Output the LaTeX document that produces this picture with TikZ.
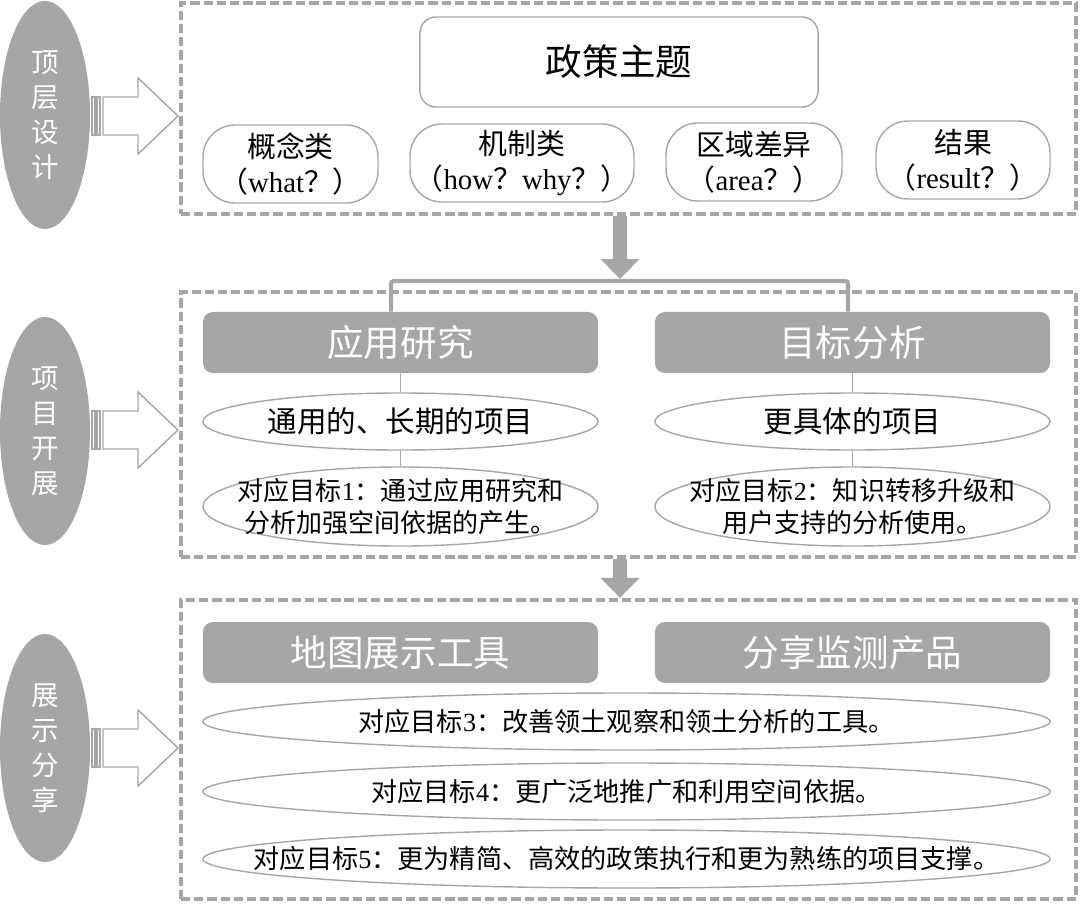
\documentclass[tikz,border=0pt]{standalone}
\usepackage{fontspec}
\setmainfont{Liberation Serif}
\newfontfamily\cjk{Noto Sans CJK SC}
\usetikzlibrary{shapes.geometric,arrows.meta}
\definecolor{boxgray}{HTML}{A6A6A6}
\newcommand\en[1]{{\rmfamily #1}}
\tikzset{
  levelnode/.style={ellipse, fill=boxgray, text=white, minimum width=2.25cm,
    minimum height=5.7cm, inner sep=0pt, align=center,
    font=\cjk\fontsize{19.5}{25}\selectfont},
  framebox/.style={draw=boxgray, line width=3pt, dash pattern=on 6.6pt off 2.8pt,
    minimum width=22.375cm, inner sep=0pt},
  topicbox/.style={draw=boxgray, line width=1pt, rounded corners=0.4cm,
    minimum width=9.95cm, minimum height=2.25cm, font=\cjk\fontsize{26}{30}\selectfont},
  kindbox/.style={draw=boxgray, line width=1pt, rounded corners=0.8cm,
    minimum height=1.95cm, inner sep=0pt, align=center,
    font=\cjk\fontsize{20.5}{25}\selectfont},
  headbox/.style={fill=boxgray, rounded corners=0.25cm, text=white,
    minimum width=9.875cm, minimum height=1.525cm, font=\cjk\fontsize{26}{30}\selectfont},
  itembox/.style={ellipse, draw=boxgray, line width=1pt, minimum width=9.875cm,
    minimum height=1.425cm, inner xsep=-4cm, inner ysep=-0.8cm, align=center,
    font=\cjk\fontsize{18.5}{22.5}\selectfont},
  sidearrow/.style={draw=boxgray, line width=1pt, fill=white},
  downarrow/.style={boxgray, line width=10.5pt, -{Triangle[length=0.5cm,width=0.95cm]}},
  bracket/.style={boxgray, line width=3pt, rounded corners=2pt},
  link/.style={boxgray, line width=0.8pt}
}
\begin{document}
\begin{tikzpicture}[x=0.025cm, y=-0.025cm]
\useasboundingbox (0,0) rectangle (1080,903);
% left side
\node[levelnode] (lv1) at (45,115) {顶\\层\\设\\计};
\node[levelnode] (lv2) at (45,431) {项\\目\\开\\展};
\node[levelnode] (lv3) at (45,748) {展\\示\\分\\享};
\draw[sidearrow] (103,97) -- (138,97) -- (138,78) -- (178,116) -- (138,154) -- (138,135) -- (103,135) -- cycle;
\draw[sidearrow] (92,97) rectangle (95,135) (97,97) rectangle (100,135);
\draw[sidearrow] (103,411) -- (138,411) -- (138,392) -- (178,430) -- (138,468) -- (138,449) -- (103,449) -- cycle;
\draw[sidearrow] (92,411) rectangle (95,449) (97,411) rectangle (100,449);
\draw[sidearrow] (103,729) -- (138,729) -- (138,710) -- (178,748) -- (138,786) -- (138,767) -- (103,767) -- cycle;
\draw[sidearrow] (92,729) rectangle (95,767) (97,729) rectangle (100,767);
% frames
\node[framebox, minimum height=5.275cm] (ftop) at (628.5,108.5) {};
\node[framebox, minimum height=6.625cm] (fmid) at (628.5,424.5) {};
\node[framebox, minimum height=7.475cm] (fbot) at (628.5,749.5) {};
% top level
\node[topicbox] (topic) at (619,62) {政策主题};
\node[kindbox, minimum width=4.375cm] (k1) at (290.5,164) {概念类\\（\en{what}？）};
\node[kindbox, minimum width=5.6cm] (k2) at (522,163) {机制类\\（\en{how}？\en{why}？）};
\node[kindbox, minimum width=4.4cm] (k3) at (754,162) {区域差异\\（\en{area}？）};
\node[kindbox, minimum width=4.35cm] (k4) at (963,160) {结果\\（\en{result}？）};
% middle level
\node[headbox] (app) at (400.5,342.5) {应用研究};
\node[headbox] (ana) at (852.5,342.5) {目标分析};
\node[itembox, font=\cjk\fontsize{21}{25}\selectfont] (e1) at (400.5,421.5) {通用的、长期的项目};
\node[itembox, minimum height=1.975cm] (e2) at (400.5,506.5) {对应目标\en{1}：通过应用研究和\\分析加强空间依据的产生。};
\node[itembox, font=\cjk\fontsize{21}{25}\selectfont] (e3) at (852.5,421.5) {更具体的项目};
\node[itembox, minimum height=1.975cm] (e4) at (852.5,506.5) {对应目标\en{2}：知识转移升级和\\用户支持的分析使用。};
\draw[link] (app) -- (e1);
\draw[link] (e1) -- (e2);
\draw[link] (ana) -- (e3);
\draw[link] (e3) -- (e4);
\coordinate (jt) at (620,279);
\coordinate (bl) at (391,281);
\coordinate (br) at (848,281);
\draw[downarrow] (ftop.south -| jt) -- (jt);
\draw[bracket] (app.north -| bl) -- (bl) -- (br) -- (ana.north -| br);
% bottom level
\draw[downarrow] (fmid.south -| jt) -- (fbot.north -| jt);
\node[headbox] (tool) at (400.5,652.5) {地图展示工具};
\node[headbox] (prod) at (852.5,652.5) {分享监测产品};
\node[itembox, minimum width=21.175cm, font=\cjk\fontsize{18.6}{22}\selectfont] (g3) at (626.5,721.5) {对应目标\en{3}：改善领土观察和领土分析的工具。};
\node[itembox, minimum width=21.175cm, font=\cjk\fontsize{18.6}{22}\selectfont] (g4) at (626.5,791.5) {对应目标\en{4}：更广泛地推广和利用空间依据。};
\node[itembox, minimum width=21.175cm, minimum height=1.45cm, font=\cjk\fontsize{18.6}{22}\selectfont] (g5) at (626.5,859) {对应目标\en{5}：更为精简、高效的政策执行和更为熟练的项目支撑。};
\end{tikzpicture}
\end{document}
